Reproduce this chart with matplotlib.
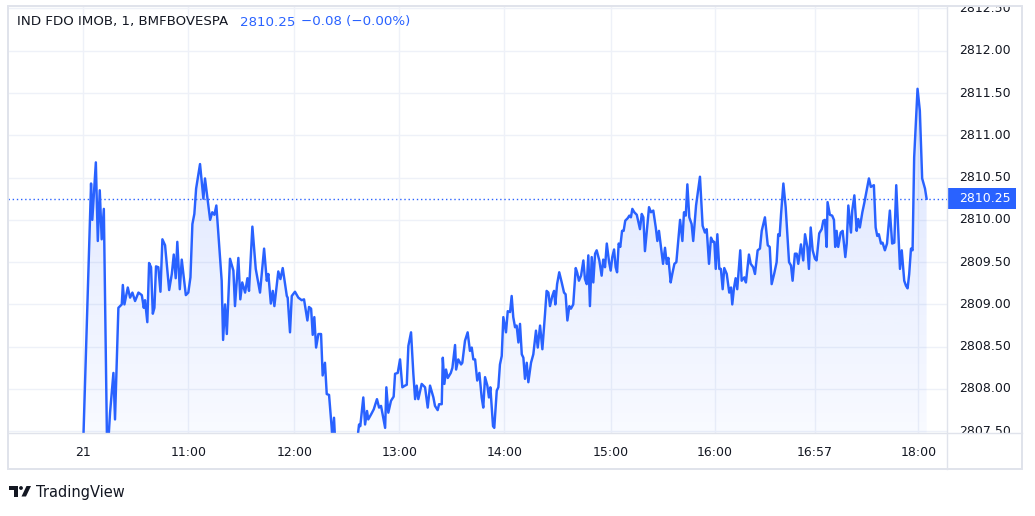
import numpy as np
import matplotlib
matplotlib.use('Agg')
import matplotlib.pyplot as plt
from matplotlib.patches import Polygon, Rectangle, Circle
from matplotlib.transforms import blended_transform_factory
from matplotlib.colors import to_rgb

# 1-minute closes, x = minutes after the open (chart units)
minute = [
    0.0, 4.5, 5.2, 7.2, 8.3, 9.4, 10.5, 11.7, 13.5, 14.3,
    15.2, 17.1, 18.0, 19.9, 21.8, 22.4, 23.3, 25.2, 26.5, 27.8,
    29.3, 31.2, 33.1, 34.2, 34.9, 36.2, 37.2, 38.3, 39.3, 40.2,
    41.1, 42.4, 43.6, 44.7, 46.2, 47.3, 48.5, 50.0, 51.1, 52.2,
    53.1, 54.5, 55.6, 57.9, 59.3, 60.5, 61.6, 62.7, 63.7, 65.9,
    67.8, 68.7, 71.6, 72.8, 74.0, 75.1, 78.1, 78.9, 80.0, 81.0,
    82.8, 84.7, 85.6, 87.5, 88.6, 89.7, 91.3, 92.6, 93.5, 95.4,
    97.3, 99.7, 102.0, 103.5, 104.4, 105.8, 106.9, 107.8, 110.0, 111.2,
    112.5, 114.8, 115.3, 116.6, 117.6, 119.4, 121.3, 123.2, 124.5, 126.4,
    127.3, 128.5, 129.4, 130.3, 131.3, 132.6, 134.1, 135.0, 136.3, 137.3,
    138.6, 140.1, 140.5, 141.4, 142.0, 144.8, 149.3, 153.2, 154.8, 155.5,
    156.2, 157.9, 158.9, 160.0, 160.7, 162.3, 163.8, 165.6, 166.8, 167.9,
    170.2, 170.9, 172.0, 173.5, 175.0, 175.8, 177.3, 178.6, 179.9, 181.4,
    182.4, 183.3, 184.8, 186.1, 187.1, 188.0, 188.9, 190.8, 192.7, 194.2,
    195.5, 197.4, 198.3, 199.8, 200.6, 202.1, 202.7, 203.6, 204.5, 205.5,
    207.2, 208.1, 209.6, 210.2, 211.4, 213.0, 213.7, 215.2, 216.7, 218.0,
    219.0, 219.9, 220.9, 222.1, 223.3, 224.6, 225.5, 226.5, 227.8, 228.7,
    229.5, 231.0, 231.7, 233.1, 234.0, 234.9, 235.9, 236.8, 238.3, 239.3,
    240.6, 241.5, 242.4, 243.4, 244.3, 245.3, 246.2, 247.2, 248.1, 249.0,
    250.0, 250.9, 252.4, 253.7, 255.2, 256.2, 257.5, 258.8, 260.3, 261.2,
    262.2, 263.1, 264.4, 265.4, 266.1, 267.1, 268.3, 269.7, 271.0, 271.9,
    272.9, 274.0, 274.9, 276.2, 277.6, 278.5, 279.4, 280.6, 281.9, 282.8,
    283.8, 284.7, 285.6, 286.6, 287.5, 288.5, 289.4, 290.9, 292.2, 293.1,
    294.1, 295.1, 296.4, 297.3, 298.2, 299.2, 300.1, 300.9, 301.8, 302.7,
    303.7, 304.6, 305.5, 306.9, 307.8, 308.7, 309.5, 310.6, 312.0, 313.8,
    314.8, 315.7, 316.6, 318.9, 320.0, 321.3, 322.7, 323.6, 324.5, 325.6,
    326.8, 327.9, 328.9, 329.8, 331.1, 332.0, 333.2, 334.3, 336.4, 337.7,
    338.6, 339.6, 340.5, 341.6, 342.9, 343.8, 345.4, 347.6, 349.1, 350.4,
    351.4, 352.7, 353.8, 354.9, 355.7, 356.5, 357.4, 358.5, 359.4, 360.4,
    361.3, 362.7, 364.1, 365.1, 365.8, 366.8, 367.7, 368.6, 370.3, 371.1,
    372.6, 373.5, 375.2, 376.2, 377.6, 378.6, 380.1, 381.4, 382.4, 384.2,
    385.8, 386.9, 388.0, 389.5, 390.8, 391.7, 392.5, 393.3, 394.6, 395.9,
    397.8, 398.9, 399.8, 401.1, 402.1, 403.0, 404.5, 405.8, 406.8, 408.1,
    409.0, 410.0, 411.1, 412.4, 413.3, 414.8, 416.2, 417.1, 418.0, 419.0,
    419.5, 420.8, 422.1, 423.1, 423.8, 424.6, 425.5, 426.9, 428.0, 429.5,
    430.3, 431.2, 432.7, 433.4, 434.6, 435.9, 436.8, 437.7, 439.1, 440.2,
    441.7, 442.8, 443.9, 445.6, 446.6, 447.5, 448.4, 449.6, 450.5, 451.8,
    453.0, 454.6, 455.9, 457.1, 458.2, 460.3, 461.3, 462.7, 463.7, 464.6,
    465.5, 466.5, 467.4, 468.3, 470.2, 471.5, 472.8, 474.4, 475.3,
]
price = [
    2807.30, 2810.43, 2810.00, 2810.68, 2809.75, 2810.35, 2809.77, 2810.13, 2807.35, 2807.40,
    2807.72, 2808.19, 2807.64, 2808.96, 2809.00, 2809.23, 2809.00, 2809.20, 2809.08, 2809.14,
    2809.04, 2809.14, 2809.11, 2808.96, 2809.05, 2808.79, 2809.49, 2809.44, 2808.89, 2808.96,
    2809.45, 2809.44, 2809.15, 2809.77, 2809.70, 2809.44, 2809.17, 2809.36, 2809.59, 2809.31,
    2809.74, 2809.18, 2809.53, 2809.11, 2809.14, 2809.32, 2809.95, 2810.07, 2810.37, 2810.66,
    2810.25, 2810.49, 2810.00, 2810.09, 2810.06, 2810.17, 2809.28, 2808.58, 2809.00, 2808.65,
    2809.54, 2809.40, 2808.98, 2809.55, 2809.06, 2809.26, 2809.14, 2809.31, 2809.16, 2809.92,
    2809.42, 2809.14, 2809.66, 2809.28, 2809.36, 2809.01, 2809.16, 2808.98, 2809.39, 2809.30,
    2809.43, 2809.10, 2809.08, 2808.67, 2809.10, 2809.15, 2809.08, 2809.05, 2809.06, 2808.81,
    2808.97, 2808.95, 2808.64, 2808.85, 2808.49, 2808.65, 2808.65, 2808.16, 2808.31, 2807.94,
    2807.93, 2807.54, 2807.40, 2807.66, 2807.40, 2807.25, 2807.30, 2807.35, 2807.45, 2807.58,
    2807.56, 2807.90, 2807.58, 2807.74, 2807.64, 2807.70, 2807.76, 2807.88, 2807.78, 2807.80,
    2807.54, 2808.02, 2807.72, 2807.86, 2807.91, 2808.18, 2808.19, 2808.35, 2808.02, 2808.04,
    2808.05, 2808.51, 2808.67, 2808.18, 2807.88, 2808.04, 2807.88, 2808.06, 2808.02, 2807.78,
    2808.04, 2807.90, 2807.80, 2807.75, 2807.82, 2807.82, 2808.37, 2808.06, 2808.23, 2808.13,
    2808.19, 2808.25, 2808.52, 2808.23, 2808.35, 2808.29, 2808.31, 2808.57, 2808.67, 2808.45,
    2808.49, 2808.35, 2808.35, 2808.10, 2808.19, 2807.90, 2807.78, 2808.14, 2808.04, 2807.90,
    2808.02, 2807.56, 2807.54, 2807.98, 2808.02, 2808.29, 2808.39, 2808.85, 2808.67, 2808.92,
    2808.91, 2809.10, 2808.85, 2808.73, 2808.75, 2808.55, 2808.77, 2808.41, 2808.37, 2808.12,
    2808.31, 2808.08, 2808.31, 2808.41, 2808.69, 2808.49, 2808.75, 2808.47, 2808.89, 2809.16,
    2809.14, 2808.98, 2809.10, 2809.16, 2809.00, 2809.24, 2809.38, 2809.26, 2809.14, 2809.12,
    2808.81, 2808.98, 2808.95, 2809.00, 2809.43, 2809.37, 2809.28, 2809.34, 2809.52, 2809.30,
    2809.24, 2809.58, 2808.98, 2809.56, 2809.26, 2809.60, 2809.64, 2809.52, 2809.34, 2809.53,
    2809.44, 2809.72, 2809.50, 2809.40, 2809.56, 2809.65, 2809.44, 2809.38, 2809.72, 2809.68,
    2809.87, 2809.87, 2809.99, 2810.02, 2810.05, 2810.03, 2810.13, 2810.09, 2810.06, 2809.89,
    2810.07, 2810.03, 2809.63, 2810.15, 2810.09, 2810.11, 2809.91, 2809.75, 2809.87, 2809.68,
    2809.48, 2809.67, 2809.48, 2809.55, 2809.26, 2809.36, 2809.48, 2809.50, 2810.00, 2809.75,
    2810.09, 2810.05, 2810.42, 2810.03, 2809.95, 2809.75, 2810.17, 2810.51, 2809.93, 2809.85,
    2809.89, 2809.48, 2809.79, 2809.74, 2809.74, 2809.42, 2809.83, 2809.42, 2809.42, 2809.18,
    2809.43, 2809.36, 2809.14, 2809.20, 2809.00, 2809.20, 2809.31, 2809.18, 2809.64, 2809.28,
    2809.32, 2809.26, 2809.59, 2809.48, 2809.44, 2809.36, 2809.64, 2809.66, 2809.87, 2810.03,
    2809.70, 2809.68, 2809.24, 2809.37, 2809.50, 2809.83, 2809.81, 2810.07, 2810.43, 2810.15,
    2809.50, 2809.46, 2809.28, 2809.60, 2809.60, 2809.48, 2809.71, 2809.52, 2809.83, 2809.68,
    2809.42, 2809.91, 2809.64, 2809.54, 2809.52, 2809.84, 2809.89, 2809.99, 2810.00, 2809.68,
    2810.21, 2810.06, 2810.05, 2810.00, 2809.68, 2809.87, 2809.68, 2809.85, 2809.87, 2809.56,
    2809.72, 2810.17, 2809.85, 2810.11, 2810.29, 2809.87, 2810.01, 2809.91, 2810.09, 2810.20,
    2810.37, 2810.49, 2810.39, 2810.41, 2809.91, 2809.81, 2809.83, 2809.72, 2809.73, 2809.64,
    2809.72, 2810.11, 2809.72, 2809.73, 2810.41, 2809.42, 2809.64, 2809.28, 2809.22, 2809.19,
    2809.36, 2809.66, 2809.64, 2810.74, 2811.55, 2811.29, 2810.49, 2810.37, 2810.25,
]

last_price = 2810.25
title_text = 'IND FDO IMOB, 1, BMFBOVESPA'
last_text = '2810.25'
change_text = '\u22120.08 (\u22120.00%)'

tick_pos = [0.2, 59.3, 119.0, 178.2, 237.4, 297.3, 356.1, 412.4, 470.6]
tick_labels = ['21', '11:00', '12:00', '13:00', '14:00', '15:00', '16:00', '16:57', '18:00']
price_ticks = np.arange(2807.5, 2812.51, 0.5)

blue = '#2962FF'
text_col = '#131722'
grid_col = '#eef1f8'
border_col = '#e0e3eb'

W, H = 1035, 516
xlim = (-42.3, 486.8)
ylim = (2807.476, 2812.529)

fig = plt.figure(figsize=(W / 100, H / 100), dpi=100)
fig.patch.set_facecolor('white')

# main pane: px x 8..947, y 6..433
ax = fig.add_axes([8 / W, (H - 433.3) / H, 939 / W, 427.3 / H])
ax.set_xlim(*xlim)
ax.set_ylim(*ylim)
for s in ax.spines.values():
    s.set_visible(False)

for t in tick_pos:
    ax.axvline(t, color=grid_col, lw=1, zorder=0)
for p in price_ticks:
    ax.axhline(p, color=grid_col, lw=1, zorder=0)

# gradient area under the line
n = 256
rgba = np.zeros((n, 1, 4))
rgba[..., :3] = to_rgb(blue)
rgba[:, 0, 3] = np.linspace(0.17, 0.015, n)
im = ax.imshow(rgba, aspect='auto', interpolation='bilinear',
               extent=[minute[0], minute[-1], 2807.0, max(price)], origin='upper', zorder=1)
verts = [(minute[0], 2807.0)] + list(zip(minute, price)) + [(minute[-1], 2807.0)]
clip = Polygon(verts, closed=True, facecolor='none', edgecolor='none', transform=ax.transData)
ax.add_patch(clip)
im.set_clip_path(clip)

ax.plot(minute, price, color=blue, lw=1.75, solid_joinstyle='round', zorder=3)
ax.axhline(last_price, color=blue, lw=1, ls=(0, (1, 2)), zorder=2)

ax.set_xlim(*xlim)
ax.set_ylim(*ylim)
ax.set_yticks([])
ax.set_xticks(tick_pos, tick_labels)
ax.tick_params(axis='x', length=0, pad=9, labelsize=9, labelcolor=text_col)

# price scale
pax = fig.add_axes([947 / W, (H - 433.3) / H, 75 / W, 427.3 / H])
pax.set_xlim(0, 1)
pax.set_ylim(*ylim)
pax.axis('off')
for p in price_ticks:
    pax.text(0.16, p, f'{p:.2f}', ha='left', va='center', fontsize=9,
             color=text_col, clip_on=True)
trans = blended_transform_factory(pax.transAxes, pax.transData)
pax.add_patch(Rectangle((0, last_price - 0.124), 0.92, 0.248, transform=trans,
                        facecolor=blue, edgecolor='none', zorder=3))
pax.text(0.16, last_price, last_text, transform=trans, ha='left', va='center',
         fontsize=9, color='white', zorder=4)

# overlay in pixel coordinates for frame, legend text and logo
ov = fig.add_axes([0, 0, 1, 1], zorder=10)
ov.set_xlim(0, W)
ov.set_ylim(H, 0)
ov.axis('off')
ov.patch.set_alpha(0)
ov.add_patch(Rectangle((8, 6), 1014, 463, facecolor='none', edgecolor=border_col, lw=1.4))
ov.plot([947, 947], [6, 469], color=border_col, lw=1)
ov.plot([8, 1022], [433.3, 433.3], color=border_col, lw=1)

ov.text(17, 22, title_text, ha='left', va='center', fontsize=9.6, color=text_col)
ov.text(240, 22, last_text, ha='left', va='center', fontsize=9.6, color=blue)
ov.text(301, 22, change_text, ha='left', va='center', fontsize=9.6, color=blue)

# TradingView logo
ov.add_patch(Rectangle((9, 486), 9, 3.5, facecolor=text_col, edgecolor='none'))
ov.add_patch(Rectangle((13.5, 486), 4.5, 10.5, facecolor=text_col, edgecolor='none'))
ov.add_patch(Circle((21, 488), 1.9, facecolor=text_col, edgecolor='none'))
ov.add_patch(Polygon([(21.5, 496.5), (26, 496.5), (31, 486), (26.5, 486)],
                     closed=True, facecolor=text_col, edgecolor='none'))
ov.text(36, 492, 'TradingView', ha='left', va='center', fontsize=10.5, color=text_col)

fig.savefig('out.png', dpi=100)
